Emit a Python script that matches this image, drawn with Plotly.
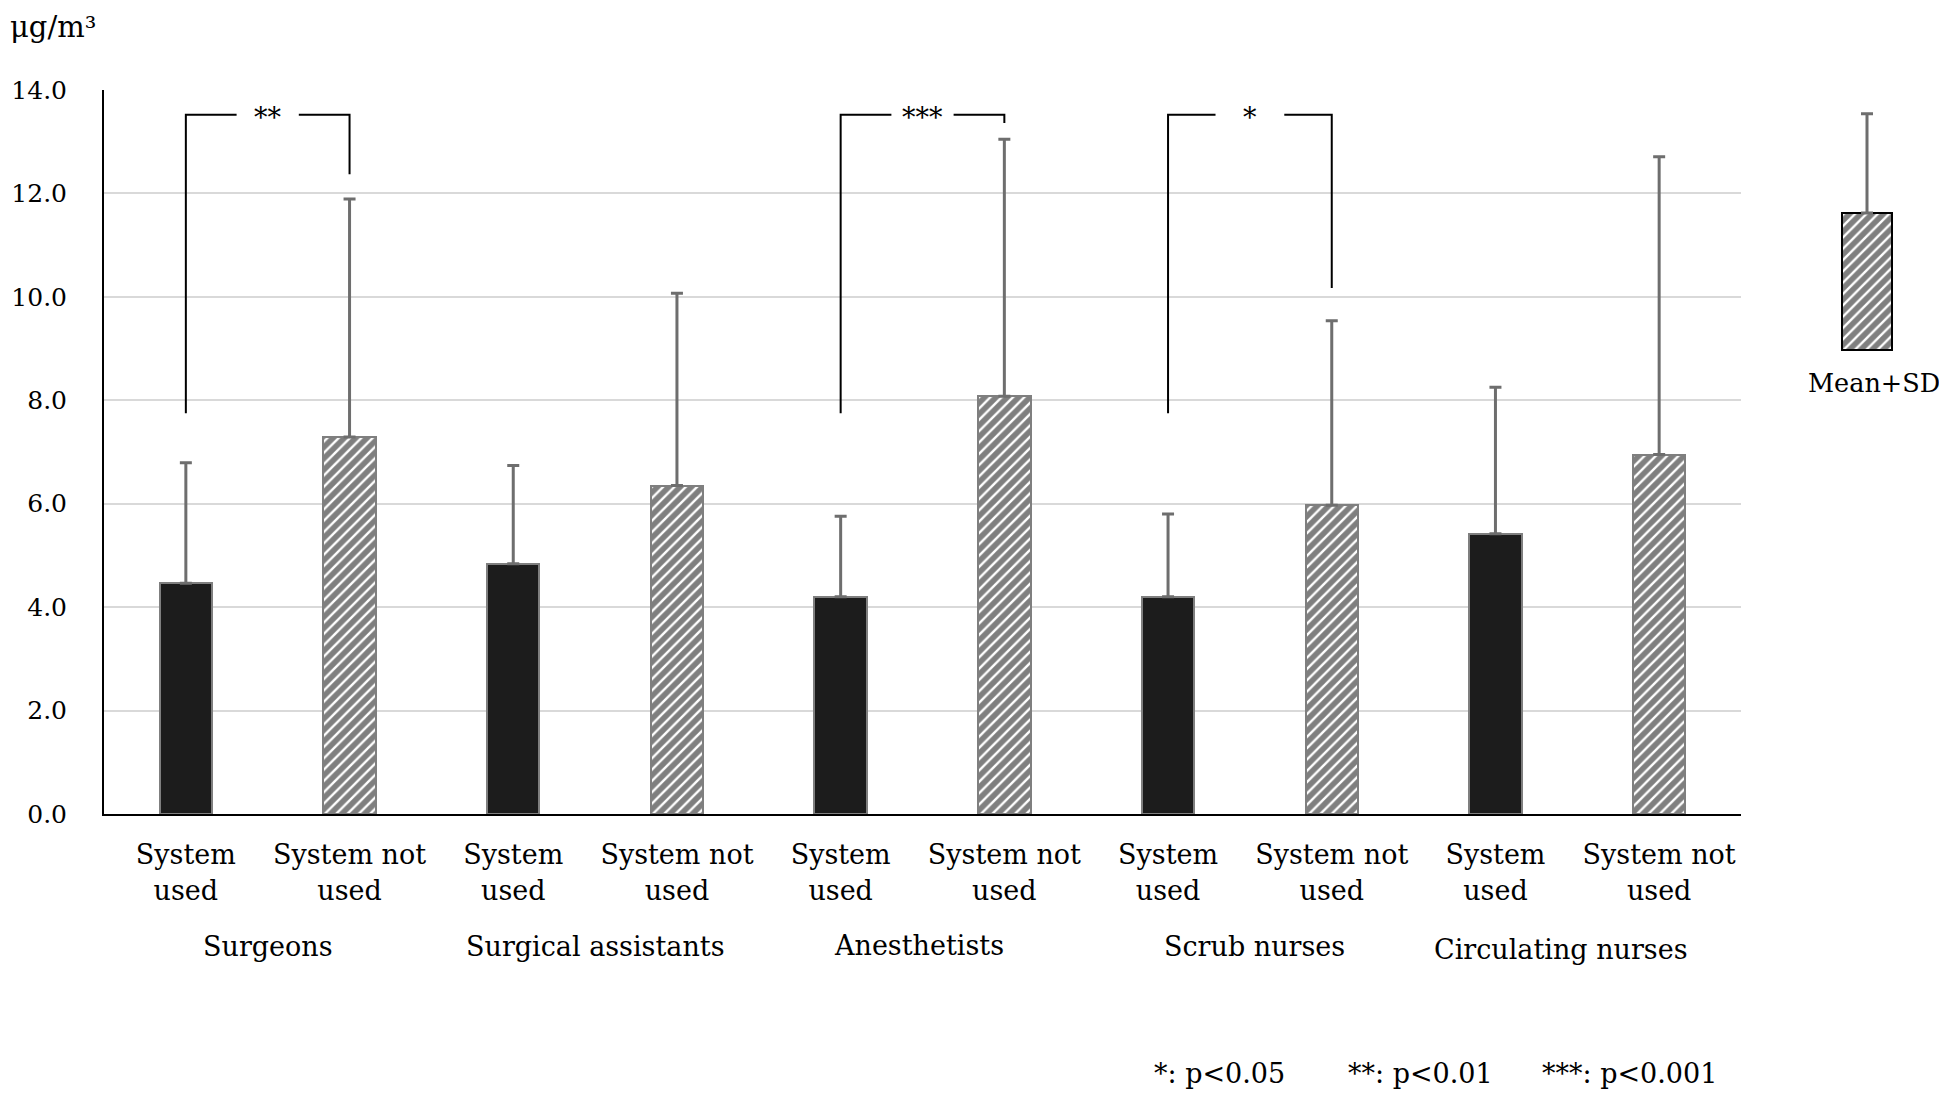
import plotly.graph_objects as go

# ---------------- data ----------------
tick_labels = ["System<br>used", "System not<br>used"] * 5
groups = ["Surgeons", "Surgical assistants", "Anesthetists", "Scrub nurses", "Circulating nurses"]
group_label_pos = [0.50, 2.50, 4.48, 6.53, 8.40]
group_label_y = [-0.183, -0.183, -0.181, -0.183, -0.187]

used_mean = [4.46, 4.84, 4.20, 4.20, 5.42]
used_sd = [2.33, 1.90, 1.56, 1.60, 2.83]
notused_mean = [7.29, 6.35, 8.08, 5.97, 6.95]
notused_sd = [4.60, 3.72, 4.97, 3.57, 5.76]

# significance brackets: (left x, right x, left bottom, right bottom, top, label)
br_left_x = [0, 4, 6]
br_right_x = [1, 5, 7]
br_left_bottom = [7.75, 7.75, 7.75]
br_right_bottom = [12.37, 13.36, 10.17]
br_top = [13.52, 13.52, 13.52]
br_labels = ["**", "***", "*"]
br_gap = [0.19, 0.19, 0.21]

# legend sample (Mean+SD key)
legend_base = [8.97]
legend_height = [2.65]
legend_sd = [1.92]

footnotes = ["*: p<0.05", "**: p<0.01", "***: p<0.001"]
footnote_px = [1144, 1338, 1532]   # left edges (figure px)

yticks = [0, 2, 4, 6, 8, 10, 12, 14]

FONT = "DejaVu Serif"
FS = 27

# page body has an 8px margin -> figure coordinates are reference minus 8
W, H = 1931, 1083
L, T, R = 96, 82, 20
PLOT_BOTTOM = 806
B = H - PLOT_BOTTOM
PW = W - L - R
PH = PLOT_BOTTOM - T

def px(xf):
    return (xf - L) / PW

def py(yf):
    return (PLOT_BOTTOM - yf) / PH

x_used = [2 * i for i in range(5)]
x_not = [2 * i + 1 for i in range(5)]

fig = go.Figure()

err_style = dict(type="data", symmetric=False, color="#6e6e6e", thickness=3, width=6)
hatch = dict(shape="/", fgcolor="black", bgcolor="white", size=8, solidity=0.7)

fig.add_trace(go.Bar(
    x=x_used, y=used_mean, width=0.32,
    marker=dict(color="#1c1c1c", line=dict(color="#7f7f7f", width=2)),
    error_y=dict(array=used_sd, arrayminus=[0] * 5, **err_style),
    showlegend=False, hoverinfo="skip",
))
fig.add_trace(go.Bar(
    x=x_not, y=notused_mean, width=0.32,
    marker=dict(color="white", line=dict(color="#7f7f7f", width=2), pattern=hatch),
    error_y=dict(array=notused_sd, arrayminus=[0] * 5, **err_style),
    showlegend=False, hoverinfo="skip",
))

# brackets
for i in range(len(br_labels)):
    xl, xr = br_left_x[i], br_right_x[i]
    xm = (xl + xr) / 2
    g = br_gap[i]
    xs = [xl, xl, xm - g, None, xm + g, xr, xr]
    ys = [br_left_bottom[i], br_top[i], br_top[i], None, br_top[i], br_top[i], br_right_bottom[i]]
    fig.add_trace(go.Scatter(x=xs, y=ys, mode="lines", line=dict(color="black", width=2),
                             showlegend=False, hoverinfo="skip", connectgaps=False))
    fig.add_annotation(x=xm, y=br_top[i], xref="x", yref="y", text=br_labels[i],
                       showarrow=False, font=dict(family=FONT, size=FS, color="black"),
                       yanchor="middle", yshift=-3)

# legend key on its own axes
leg_c = px(1859)
half = 1 - leg_c
fig.add_trace(go.Bar(
    x=[0.5], y=legend_height, base=legend_base, width=0.49, xaxis="x2", yaxis="y2",
    marker=dict(color="white", line=dict(color="black", width=2), pattern=hatch),
    error_y=dict(array=legend_sd, arrayminus=[0], **err_style),
    showlegend=False, hoverinfo="skip",
))

fig.update_layout(
    width=W, height=H,
    margin=dict(l=L, r=R, t=T, b=B, autoexpand=False),
    paper_bgcolor="white", plot_bgcolor="white",
    font=dict(family=FONT, size=FS, color="black"),
    bargap=0,
    xaxis=dict(domain=[0, px(1733)], range=[-0.5, 9.5], tickmode="array",
               tickvals=list(range(10)), ticktext=tick_labels, automargin=False,
               showline=True, linecolor="black", linewidth=2, showgrid=False,
               zeroline=False, ticks="", tickfont=dict(family=FONT, size=FS, color="black"),
               ticklabelstandoff=16),
    yaxis=dict(range=[0, 14], tickmode="array", tickvals=yticks, tickformat=".1f",
               automargin=False,
               showline=True, linecolor="black", linewidth=2, showgrid=True,
               gridcolor="#d9d9d9", gridwidth=2, zeroline=False, ticks="",
               tickfont=dict(family=FONT, size=25, color="black"), ticklabelstandoff=30),
    xaxis2=dict(domain=[leg_c - half, 1], range=[0, 1], anchor="y2", visible=False,
                automargin=False),
    yaxis2=dict(domain=[0, 1], range=[0, 14], anchor="x2", visible=False, automargin=False),
)

for name, xp, yp in zip(groups, group_label_pos, group_label_y):
    fig.add_annotation(x=xp, y=yp, xref="x", yref="paper", text=name, showarrow=False,
                       font=dict(family=FONT, size=FS, color="black"), yanchor="middle")

fig.add_annotation(x=px(1866), y=py(375), xref="paper", yref="paper",
                   text="Mean+SD", showarrow=False, xanchor="center", yanchor="middle",
                   font=dict(family=FONT, size=25.5, color="black"))

fig.add_annotation(x=px(0), y=py(0), xref="paper", yref="paper",
                   text="μg/m³", showarrow=False, xanchor="left", yanchor="top",
                   font=dict(family=FONT, size=29, color="black"))

for t, xf in zip(footnotes, footnote_px):
    fig.add_annotation(x=px(xf), y=py(H), xref="paper", yref="paper", text=t,
                       showarrow=False, xanchor="left", yanchor="bottom",
                       font=dict(family=FONT, size=FS, color="black"))

fig.write_html("out.html")
